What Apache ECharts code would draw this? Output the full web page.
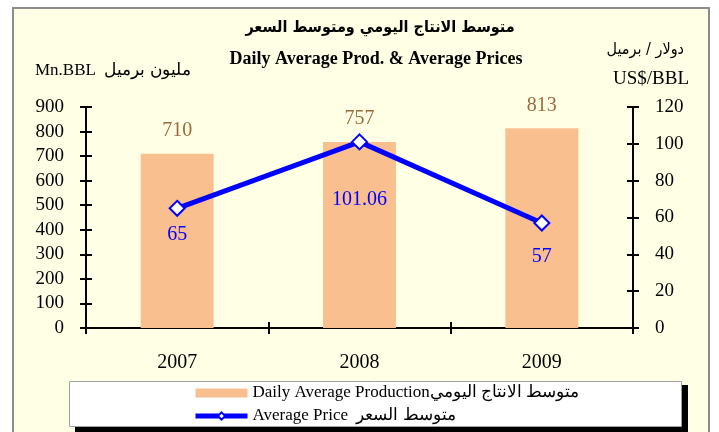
<!DOCTYPE html>
<html lang="en" style="height: 100%">
<head>
    <meta charset="UTF-8">
    <title>Daily Average Prod. & Average Prices</title>
    <script type="text/javascript" src="https://cdn.jsdelivr.net/npm/echarts@6/dist/echarts.min.js"></script>
</head>
<body style="height: 100%; margin: 0; background: #fff">
<div id="container" style="width: 719px; height: 432px"></div>
<script type="text/javascript">
    var years = ['2007', '2008', '2009'];
    var production = [710, 757, 813];
    var prices = [65, 101.06, 57];
    var prodTicks = {min: 0, max: 900, interval: 100};
    var priceTicks = {min: 0, max: 120, interval: 20};
    var priceLabelGap = [8, 39, 15]; // distance of each price label under its point

    var serif = '"Liberation Serif", "DejaVu Serif", serif';
    var arabic = '"DejaVu Sans Condensed", "DejaVu Sans", sans-serif';
    var prodName = 'Daily Average Productionمتوسط الانتاج اليومي';
    var priceName = 'Average Price  متوسط السعر';

    var priceData = [];
    for (var i = 0; i < prices.length; i++) {
        priceData.push({value: prices[i], label: {distance: priceLabelGap[i]}});
    }

    var myChart = echarts.init(document.getElementById('container'));

    var tickStyle = {color: '#000', width: 2};
    function valueAxis(pos, r, inside) {
        return {
            type: 'value', position: pos, min: r.min, max: r.max, interval: r.interval,
            splitLine: {show: false},
            axisLine: {show: !inside, lineStyle: {color: '#000', width: 2}},
            axisTick: {show: true, inside: inside, length: 6, lineStyle: tickStyle},
            axisLabel: {show: !inside, color: '#000', fontFamily: serif, fontSize: 19, margin: 22}
        };
    }
    function catAxis(inside) {
        return {
            type: 'category', position: 'bottom', data: years,
            axisLine: {show: !inside, lineStyle: {color: '#000', width: 2}},
            axisTick: {show: true, inside: inside, length: 6, lineStyle: tickStyle},
            axisLabel: {show: !inside, color: '#000', fontFamily: serif, fontSize: 20, margin: 25}
        };
    }

    myChart.setOption({
        backgroundColor: '#fff',
        animation: false,
        grid: {left: 86, right: 86, top: 107, bottom: 104},
        graphic: [
            {type: 'rect', z: -10, shape: {x: 13, y: 8, width: 696, height: 440},
                style: {fill: '#FFFFE5', stroke: '#8c8c8c', lineWidth: 2}},
            {type: 'rect', z: 3, shape: {x: 75, y: 385, width: 613, height: 60}, style: {fill: '#000'}},
            {type: 'rect', z: 3, shape: {x: 69.5, y: 381.5, width: 612, height: 45},
                style: {fill: '#fff', stroke: '#a0a0a0', lineWidth: 1}},
            {type: 'text', z: 5, x: 380, y: 20,
                style: {text: 'متوسط الانتاج اليومي ومتوسط السعر', fill: '#000', align: 'center',
                    font: 'bold 16px ' + arabic}},
            {type: 'text', z: 5, x: 376, y: 50,
                style: {text: 'Daily Average Prod. & Average Prices', fill: '#000', align: 'center',
                    font: 'bold 18px ' + serif}},
            {type: 'text', z: 5, x: 35, y: 62,
                style: {text: 'Mn.BBL  مليون برميل', fill: '#000', align: 'left',
                    font: '17px ' + serif}},
            {type: 'text', z: 5, x: 684, y: 42,
                style: {text: 'دولار / برميل', fill: '#000', align: 'right',
                    font: '16px ' + arabic}},
            {type: 'text', z: 5, x: 689, y: 70,
                style: {text: 'US$/BBL', fill: '#000', align: 'right',
                    font: '19px ' + serif}}
        ],
        legend: {
            orient: 'vertical', left: 193, top: 384, itemGap: 5, padding: 0,
            itemWidth: 52, itemHeight: 9,
            textStyle: {color: '#000', fontFamily: serif, fontSize: 17, lineHeight: 18},
            data: [
                {name: prodName, icon: 'rect'},
                {name: priceName, lineStyle: {width: 5}}
            ]
        },
        xAxis: [catAxis(false), catAxis(true)],
        yAxis: [
            valueAxis('left', prodTicks, false),
            valueAxis('right', priceTicks, false),
            valueAxis('left', prodTicks, true),
            valueAxis('right', priceTicks, true)
        ],
        series: [{
            name: prodName,
            type: 'bar',
            data: production,
            barWidth: '40%',
            itemStyle: {color: '#F9BF8F'},
            label: {show: true, position: 'top', distance: 13, color: '#9C6A3A',
                fontFamily: serif, fontSize: 20}
        }, {
            name: priceName,
            type: 'line',
            yAxisIndex: 1,
            data: priceData,
            symbol: 'diamond',
            symbolSize: 15,
            lineStyle: {color: '#0000FF', width: 5},
            itemStyle: {color: '#fff', borderColor: '#0000FF', borderWidth: 2},
            label: {show: true, position: 'bottom', color: '#0000FF',
                fontFamily: serif, fontSize: 20}
        }]
    });
</script>
</body>
</html>
